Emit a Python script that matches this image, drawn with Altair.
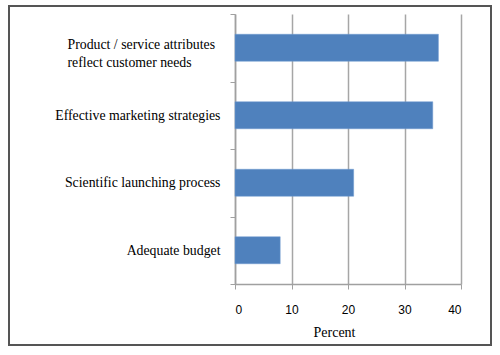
import altair as alt
import pandas as pd

categories = [
    "Product / service attributes reflect customer needs",
    "Effective marketing strategies",
    "Scientific launching process",
    "Adequate budget",
]
percent = [36, 35, 21, 8]
x_ticks = [0, 10, 20, 30, 40]

df = pd.DataFrame({"category": categories, "percent": percent})

first = categories[0]
label_expr = (
    f"datum.value == '{first}' ? "
    "['Product / service attributes', 'reflect customer needs'] : datum.label"
)
is_first = f"datum.value == '{first}'"

bars = alt.Chart(df).mark_bar(
    color="#4f81bd", stroke="#6f9ad0", strokeWidth=0.5,
    height=alt.RelativeBandSize(0.4),
).encode(
    x=alt.X(
        "percent:Q",
        scale=alt.Scale(domain=[0, 40], nice=False),
        axis=alt.Axis(
            values=x_ticks,
            title="Percent",
            titleFont="Liberation Serif",
            titleFontSize=14,
            titleFontWeight="normal",
            titleColor="#000000",
            titlePadding=10,
            titleX=99,
            titleAlign="center",
            labelFont="Liberation Sans",
            labelFontSize=12,
            labelColor="#000000",
            labelPadding=15,
            tickSize=5,
            tickColor="#a0a0a0",
            domainColor="#a0a0a0",
            domainWidth=1.5,
            grid=True,
            gridColor="#a6a6a6",
            gridWidth=1.5,
        ),
    ),
    y=alt.Y(
        "category:N",
        sort=categories,
        scale=alt.Scale(paddingInner=0, paddingOuter=0),
        axis=alt.Axis(
            title=None,
            labelExpr=label_expr,
            labelFont="Liberation Serif",
            labelFontSize=13.8,
            labelColor="#000000",
            labelLimit=400,
            labelLineHeight=18,
            labelAlign=alt.ConditionalAxisLabelAlign(
                condition={"test": is_first, "value": "left"}, value="right"
            ),
            labelPadding=alt.ConditionalAxisNumber(
                condition={"test": is_first, "value": 163}, value=10
            ),
            labelOffset=alt.ConditionalAxisNumber(
                condition={"test": is_first, "value": -3}, value=0
            ),
            tickBand="extent",
            tickSize=5,
            tickColor="#a0a0a0",
            domainColor="#a0a0a0",
            domainWidth=1.5,
            grid=False,
        ),
    ),
)

frame = alt.Chart(pd.DataFrame({"a": [0]})).mark_rect(
    fill=None, stroke="#555555", strokeWidth=2, clip=False
).encode(
    x=alt.value(-226), x2=alt.value(256), y=alt.value(-8), y2=alt.value(331)
)

chart = (
    alt.layer(frame, bars)
    .properties(
        width=226,
        height=270,
        autosize=alt.AutoSizeParams(type="none"),
        padding={"left": 235, "top": 14, "right": 39, "bottom": 71},
        background="#ffffff",
    )
    .configure_view(stroke=None)
)

chart.save("out.html", embed_options={"renderer": "svg", "actions": False})
